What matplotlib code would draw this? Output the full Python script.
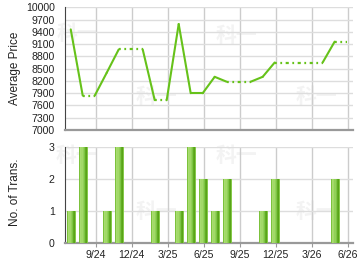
import matplotlib
matplotlib.use("Agg")
import matplotlib.pyplot as plt
import numpy as np

plt.rcParams['font.family'] = ['Liberation Sans', 'DejaVu Sans']

# month index 0 = Sep 2024
months = list(range(-2, 22))
price = [9460, 7840, None, 8400, 8970, None, None, 7730, None, 9590, 7900, 7900,
         8300, 8180, None, None, 8300, 8650, None, None, None, None, 9160, None]
trans = [1, 3, 0, 1, 3, 0, 0, 1, 0, 1, 3, 2, 1, 2, 0, 0, 1, 2, 0, 0, 0, 0, 2, 0]
tick_pos = [0, 3, 6, 9, 12, 15, 18, 21]
tick_labels = ['9/24', '12/24', '3/25', '6/25', '9/25', '12/25', '3/26', '6/26']
price_ticks = list(range(7000, 10001, 300))

fig = plt.figure(figsize=(3.6, 2.7), dpi=100)
W, H = 360, 270
def rect(x0, y0, x1, y1):
    return [x0 / W, 1 - y1 / H, (x1 - x0) / W, (y1 - y0) / H]

ax1 = fig.add_axes(rect(64.5, 7.3, 353, 130))
ax2 = fig.add_axes(rect(64.5, 147.3, 353, 243.3))
xlim = (-2.6, 21.45)
green = '#66c21a'

# watermark (behind axes)
wm_pos = [(77, 33), (236, 36), (156, 96), (316, 96), (76, 156), (236, 156), (156, 212), (316, 212)]
for (wx, wy) in wm_pos:
    fig.text(wx / W, 1 - wy / H, '科一', fontsize=15, color='#f3f3f3', ha='center', va='center',
             family=['Noto Sans CJK SC'], fontweight='bold', zorder=-5)

for ax in (ax1, ax2):
    ax.set_xlim(*xlim)
    ax.set_facecolor('none')
    ax.set_xticks(tick_pos)
    ax.grid(True, axis='x', color='#cccccc', lw=1)
    ax.grid(True, axis='y', color='#dddddd', lw=1)
    ax.set_axisbelow(True)
    for s in ('top', 'right'):
        ax.spines[s].set_visible(False)
    ax.spines['left'].set_color('#444444')
    ax.spines['left'].set_linewidth(0.8)
    ax.spines['bottom'].set_color('#999999')
    ax.spines['bottom'].set_linewidth(1.6)
    ax.tick_params(axis='y', length=0, pad=7, labelsize=7.6, labelcolor='#222222')
    ax.tick_params(axis='x', length=3, width=0.8, color='#999999', pad=2,
                   labelsize=7.6, labelcolor='#222222')

# price line: solid between actual data, dotted for carried-forward months
vals = []
real = []
last = None
for p in price:
    if p is None:
        vals.append(last)
        real.append(False)
    else:
        vals.append(p)
        last = p
        real.append(True)
for i in range(len(months) - 1):
    xs = [months[i] - 0.08, months[i + 1] - 0.08]
    ys = [vals[i], vals[i + 1]]
    if real[i + 1]:
        ax1.plot(xs, ys, color=green, lw=1.5, solid_capstyle='round', solid_joinstyle='round')
    else:
        ax1.plot(xs, ys, color=green, lw=1.6, linestyle=(0, (0.8, 1.6)), dash_capstyle='butt')

ax1.set_ylim(7000, 10000)
ax1.set_yticks(price_ticks)
ax1.tick_params(axis='x', labelbottom=False, length=0)

# bars with simple gradient slices
bw = 0.75
slice_cols = ['#7cc23c', '#a8dc70', '#a2d968', '#92d058', '#7dc444', '#62ad22', '#58a418', '#86c94a']
n = len(slice_cols)
m_arr = np.array(months, dtype=float)
t_arr = np.array(trans, dtype=float)
for k, c in enumerate(slice_cols):
    ax2.bar(m_arr - bw / 2 + k * bw / n, t_arr, width=bw / n, align='edge', color=c,
            linewidth=0, zorder=3)

ax2.set_ylim(0, 3)
ax2.set_yticks([0, 1, 2, 3])
ax2.set_xticklabels(tick_labels)

fig.text(15 / W, 1 - 68 / H, 'Average Price', rotation=90, ha='center', va='center',
         fontsize=8.5, color='#222222')
fig.text(15 / W, 1 - 192 / H, 'No. of Trans.', rotation=90, ha='center', va='center',
         fontsize=8.5, color='#222222')

fig.savefig('out.png', dpi=100)
